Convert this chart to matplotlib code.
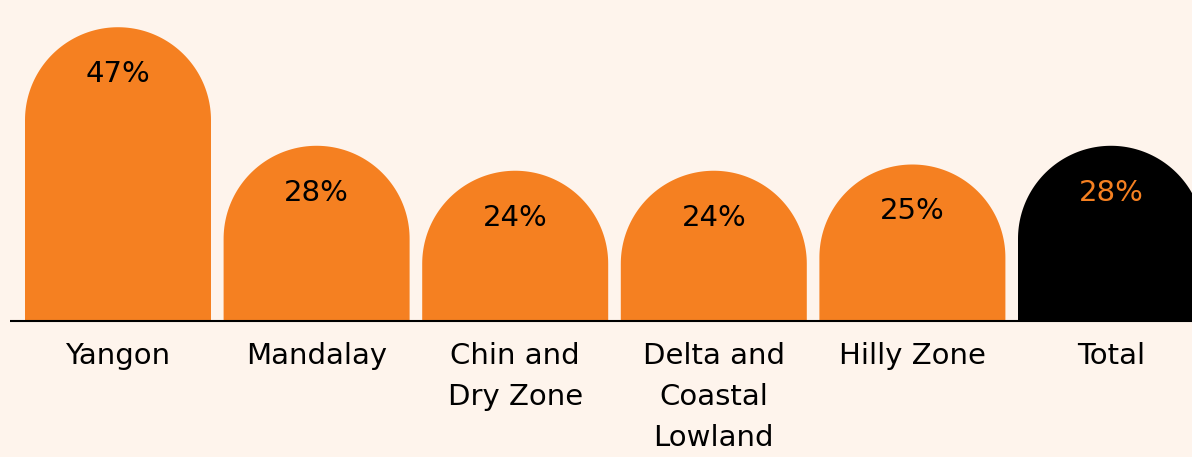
import numpy as np
import matplotlib
matplotlib.use("Agg")
import matplotlib.pyplot as plt
from matplotlib.patches import Polygon

categories = ["Yangon", "Mandalay", "Chin and\nDry Zone", "Delta and\nCoastal\nLowland", "Hilly Zone", "Total"]
values = [47, 28, 24, 24, 25, 28]
labels = ["47%", "28%", "24%", "24%", "25%", "28%"]
bar_colors = ["#F58021"] * 5 + ["#000000"]
text_colors = ["#000000"] * 5 + ["#F58021"]

BG = "#FEF4EC"
W, H = 1192, 457
fig = plt.figure(figsize=(W / 100, H / 100), dpi=100, facecolor=BG)
ax = fig.add_axes([0, 0, 1, 1])
ax.set_facecolor(BG)

px_x = 198.6          # pixels per category
px_y = 6.24           # pixels per percent
x0_px = 118.0         # centre of first bar
base_px = 457 - 320.5 # baseline from bottom
ax.set_xlim(-x0_px / px_x, (W - x0_px) / px_x)
ax.set_ylim(-base_px / px_y, (H - base_px) / px_y)
ax.axis("off")

FONT = "DejaVu Sans"
width = 186 / px_x
rx = width / 2
ry = 93 / px_y
t = np.linspace(0, np.pi, 100)
for i, (v, c) in enumerate(zip(values, bar_colors)):
    left, right = i - rx, i + rx
    arc = np.column_stack([i + rx * np.cos(t), v - ry + ry * np.sin(t)])
    pts = np.vstack([[right, 0], arc, [left, 0]])
    ax.add_patch(Polygon(pts, closed=True, facecolor=c, edgecolor="none"))
    ax.text(i, v - 55 / px_y, labels[i], ha="center", va="baseline",
            fontsize=21, color=text_colors[i], family=FONT)
    for k, line in enumerate(categories[i].split("\n")):
        ax.text(i, -(43.5 + 41 * k) / px_y, line, ha="center", va="baseline",
                fontsize=21, color="#000000", family=FONT)

ax.plot([(10 - x0_px) / px_x, (W - x0_px) / px_x], [0, 0], color="#000000", lw=1.5,
        solid_capstyle="butt")

fig.savefig("out.png", dpi=100, facecolor=BG)
